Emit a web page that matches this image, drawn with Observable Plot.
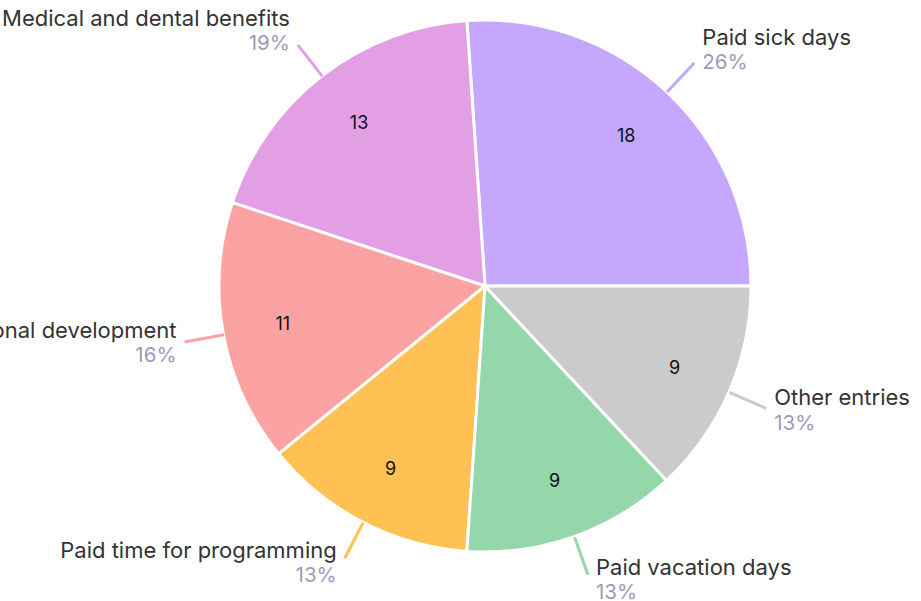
<!DOCTYPE html>
<html>
<head>
<meta charset="utf-8">
<script src="https://cdn.jsdelivr.net/npm/d3@7"></script>
<script src="https://cdn.jsdelivr.net/npm/@observablehq/plot@0.6"></script>
<style>
  html, body { margin: 0; padding: 0; background: #fff; overflow: hidden; }
  #chart svg { overflow: hidden; }
</style>
</head>
<body>
<div id="chart"></div>
<script>
// ---- data ----
const categories = ["Paid sick days", "Medical and dental benefits", "Professional development", "Paid time for programming", "Paid vacation days", "Other entries"];
const values = [18, 13, 11, 9, 9, 9];
const percentLabels = ["26%", "19%", "16%", "13%", "13%", "13%"];
const colors = ["#c5a7fd", "#e29fe4", "#fba3a2", "#ffc153", "#94d7aa", "#cbcbcb"];

// ---- layout ----
const W = 921, H = 601;
const R = 266;           // pie radius
const leader = 40;       // leader line length
const labelGap = 8;

const rows = categories.map((c, i) => ({ name: c, value: values[i], pct: percentLabels[i], color: colors[i] }));
const arcs = d3.pie().sort(null).value(d => d.value).startAngle(Math.PI / 2).endAngle(Math.PI / 2 - 2 * Math.PI)(rows);

const pt = (a, r) => [r * Math.sin(a), -r * Math.cos(a)];
const table = arcs.map(a => {
  const mid = (a.startAngle + a.endAngle) / 2;
  const [x1, y1] = pt(mid, R);
  const [x2, y2] = pt(mid, R + leader);
  const [cx, cy] = pt(mid, R * 0.775);
  const right = Math.sin(mid) >= 0;
  const c = Math.cos(mid);
  const shift = -18 * Math.max(0, c) + 5 * Math.max(0, -c);
  return {
    ...a.data, startAngle: a.startAngle, endAngle: a.endAngle,
    x1, y1, x2, y2, cx, cy,
    lx: x2 + (right ? labelGap : -labelGap),
    ly: y2 + shift,
    right
  };
});
const rightSide = table.filter(d => d.right);
const leftSide = table.filter(d => !d.right);

const arcGen = d3.arc().innerRadius(0).outerRadius(R);

const slices = (index, scales) => {
  const g = d3.create("svg:g");
  const ox = scales.x(0), oy = scales.y(0);
  g.attr("transform", `translate(${ox},${oy})`);
  g.selectAll("path").data(table).join("path")
    .attr("d", d => arcGen({ startAngle: d.startAngle, endAngle: d.endAngle }))
    .attr("fill", d => d.color)
    .attr("stroke", "#fff")
    .attr("stroke-width", 3)
    .attr("stroke-linejoin", "round");
  return g.node();
};

const font = "Inter, 'Open Sans', sans-serif";
const nameStyle = { text: "name", dy: -12, fill: "#333", fontSize: 22 };
const pctStyle = { text: "pct", dy: 13, fill: "#9c9cb8", fontSize: 20.5 };

const plot = Plot.plot({
  width: W, height: H, margin: 0,
  x: { type: "linear", domain: [-485, W - 485], range: [0, W], axis: null },
  y: { type: "linear", domain: [-286, H - 286], range: [0, H], axis: null },
  style: { fontFamily: font, background: "#fff" },
  marks: [
    slices,
    Plot.link(table, { x1: "x1", y1: "y1", x2: "x2", y2: "y2", stroke: "color", strokeWidth: 3 }),
    Plot.text(table, { x: "cx", y: "cy", text: d => String(d.value), fill: "#111", fontSize: 18 }),
    Plot.text(rightSide, { x: "lx", y: "ly", textAnchor: "start", ...nameStyle }),
    Plot.text(leftSide, { x: "lx", y: "ly", textAnchor: "end", ...nameStyle }),
    Plot.text(rightSide, { x: "lx", y: "ly", textAnchor: "start", ...pctStyle }),
    Plot.text(leftSide, { x: "lx", y: "ly", textAnchor: "end", ...pctStyle })
  ]
});
document.getElementById("chart").appendChild(plot);
</script>
</body>
</html>
